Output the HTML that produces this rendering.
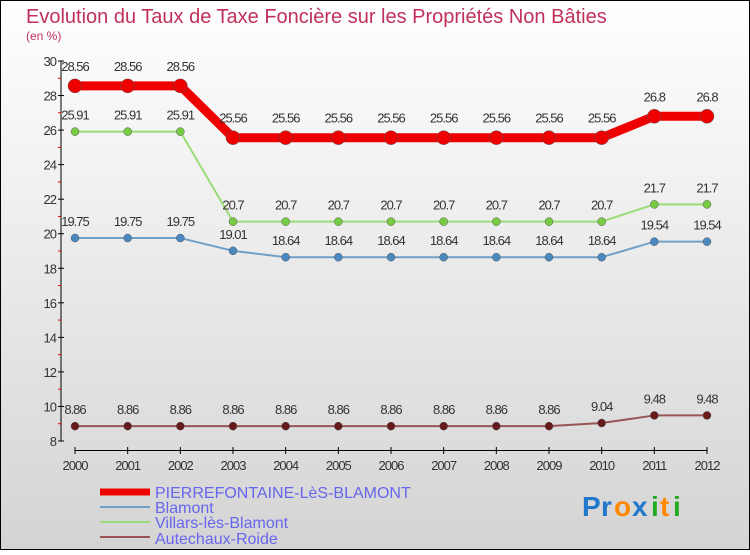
<!DOCTYPE html>
<html><head><meta charset="utf-8"><style>
body{margin:0}
#c{width:750px;height:550px;position:relative;font-family:"Liberation Sans",sans-serif}
</style></head><body>
<div id="c">
<svg id="s" width="750" height="550" xmlns="http://www.w3.org/2000/svg">
<defs><linearGradient id="bg" x1="0" y1="0" x2="0" y2="1"><stop offset="0" stop-color="#ffffff"/><stop offset="1" stop-color="#d4d4d4"/></linearGradient></defs>
<rect x="0.5" y="0.5" width="749" height="549" fill="url(#bg)" stroke="#000"/>
<text x="26" y="23" font-size="20" fill="#c0305a">Evolution du Taux de Taxe Foncière sur les Propriétés Non Bâties</text>
<text x="26" y="40" font-size="12" fill="#c0305a">(en %)</text>
<g id="axes"></g><g id="series"></g>
<g>
<line x1="100" y1="492" x2="150" y2="492" stroke="#ee0000" stroke-width="7"/>
<text x="155" y="498" font-size="16" fill="#6666ee">PIERREFONTAINE-LèS-BLAMONT</text>
<line x1="100" y1="507" x2="150" y2="507" stroke="#6fa0c8" stroke-width="2"/>
<text x="155" y="513" font-size="16" fill="#6666ee">Blamont</text>
<line x1="100" y1="522" x2="150" y2="522" stroke="#99dd77" stroke-width="2"/>
<text x="155" y="528" font-size="16" fill="#6666ee">Villars-lès-Blamont</text>
<line x1="100" y1="537" x2="150" y2="537" stroke="#995555" stroke-width="2"/>
<text x="155" y="544" font-size="16" fill="#6666ee">Autechaux-Roide</text>
</g>
<g font-size="28" font-weight="bold">
<text x="582" y="516" fill="#2277cc">P</text><text x="601" y="516" fill="#2277cc">r</text><text x="614" y="516" fill="#ff8800">o</text><text x="632" y="516" fill="#2277cc">x</text><text x="651" y="516" fill="#22aa22">i</text><text x="660" y="516" fill="#ff8800">t</text><text x="673" y="516" fill="#22aa22">i</text>
</g>
</svg></div>
<script>
const years=[2000,2001,2002,2003,2004,2005,2006,2007,2008,2009,2010,2011,2012];
const pierre=[28.56,28.56,28.56,25.56,25.56,25.56,25.56,25.56,25.56,25.56,25.56,26.8,26.8];
const blamont=[19.75,19.75,19.75,19.01,18.64,18.64,18.64,18.64,18.64,18.64,18.64,19.54,19.54];
const villars=[25.91,25.91,25.91,20.7,20.7,20.7,20.7,20.7,20.7,20.7,20.7,21.7,21.7];
const autechaux=[8.86,8.86,8.86,8.86,8.86,8.86,8.86,8.86,8.86,8.86,9.04,9.48,9.48];
const yTicks=[8,10,12,14,16,18,20,22,24,26,28,30];
const NS="http://www.w3.org/2000/svg";
const xs=i=>75+i*(707-75)/(years.length-1);
const ys=v=>441-(v-8)*(441-61)/22;
function mk(t,a,p){const e=document.createElementNS(NS,t);for(const k in a)e.setAttribute(k,a[k]);p.appendChild(e);return e;}
const ax=document.getElementById('axes');
mk('line',{x1:61,y1:61,x2:61,y2:441,stroke:'#000'},ax);
mk('line',{x1:75,y1:450.5,x2:707,y2:450.5,stroke:'#000'},ax);
yTicks.forEach(v=>{const y=ys(v);
mk('line',{x1:58,y1:y,x2:64,y2:y,stroke:'#000'},ax);
if(v<30)mk('line',{x1:58,y1:ys(v+1),x2:61,y2:ys(v+1),stroke:'#e00'},ax);
const t=mk('text',{x:56,y:y+5,'font-size':13,fill:'#333','text-anchor':'end','letter-spacing':'-1'},ax);t.textContent=v;

});
years.forEach((yr,i)=>{const x=xs(i);
mk('line',{x1:x,y1:447,x2:x,y2:454,stroke:'#000'},ax);
const t=mk('text',{x:x,y:470,'font-size':13,fill:'#333','text-anchor':'middle','letter-spacing':'-1'},ax);t.textContent=yr;

});
const sg=document.getElementById('series');
function draw(vals,color,w,r,dot,name){
const g=mk('g',{},sg);


mk('polyline',{points:vals.map((v,i)=>xs(i)+','+ys(v)).join(' '),fill:'none',stroke:color,'stroke-width':w,'stroke-linejoin':'round'},g);
vals.forEach((v,i)=>{const c=mk('circle',{cx:xs(i),cy:ys(v),r:r,fill:dot,stroke:'#555','stroke-width':0.5},g);


const t=mk('text',{x:xs(i),y:ys(v)-(r+8),'font-size':13,fill:'#333','text-anchor':'middle','letter-spacing':'-1'},g);t.textContent=v;

});}
draw(autechaux,'#995555',2,4,'#661a1a','series-autechaux');
draw(blamont,'#6fa0c8',2,4,'#4a88c0','series-blamont');
draw(villars,'#99dd77',2,4,'#77cc44','series-villars');
draw(pierre,'#ee0000',9,7,'#ee0000','series-pierrefontaine');
</script>
</body></html>
